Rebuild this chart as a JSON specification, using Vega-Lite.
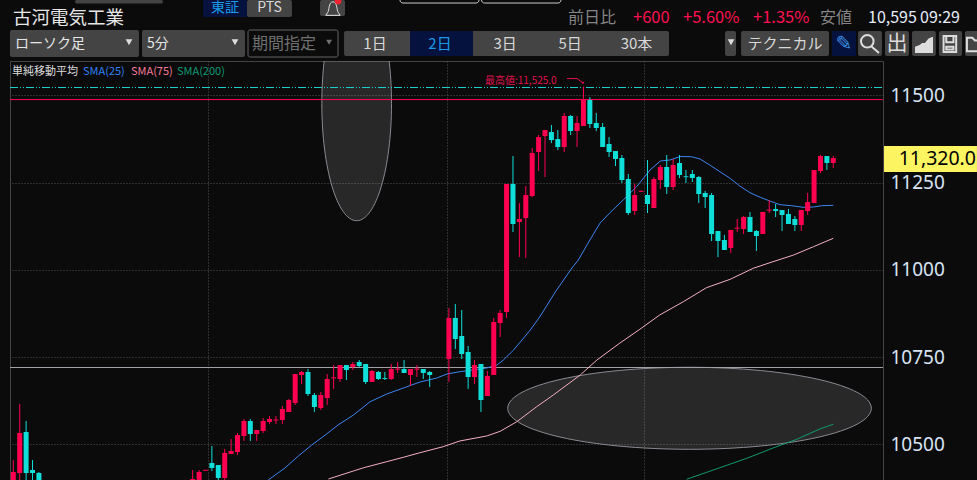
{
"$schema":"https://vega.github.io/schema/vega-lite/v6.json",
"width":873,"height":419,
"autosize":{"type":"none"},
"padding":{"left":10,"top":61,"right":94,"bottom":0},
"background":"#0b0b0c",
"view":{"stroke":"#444444","fill":"#0b0b0c"},
"config":{"text":{"font":"Noto Sans CJK JP","baseline":"middle"}},
"datasets":{
"candles":[
{"bar":0,"dir":"u","o":10385,"c":10420.7,"h":10455.1,"l":10380},
{"bar":1,"dir":"u","o":10417.9,"c":10532.5,"h":10615.6,"l":10380},
{"bar":2,"dir":"d","o":10535.4,"c":10417.9,"h":10566.9,"l":10380},
{"bar":3,"dir":"d","o":10426.5,"c":10417.9,"h":10455.1,"l":10380},
{"bar":4,"dir":"d","o":10417.9,"c":10385,"h":10420.7,"l":10380},
{"bar":28,"dir":"u","o":10390,"c":10400.7,"h":10426.5,"l":10385},
{"bar":29,"dir":"u","o":10390,"c":10420.7,"h":10426.5,"l":10385},
{"bar":30,"dir":"u","o":10424.2,"c":10427,"h":10427,"l":10424.2},
{"bar":31,"dir":"d","o":10446.5,"c":10432.2,"h":10495.2,"l":10423.6},
{"bar":32,"dir":"d","o":10440.8,"c":10403.6,"h":10440.8,"l":10398},
{"bar":33,"dir":"u","o":10403.6,"c":10475.2,"h":10486.6,"l":10398},
{"bar":34,"dir":"u","o":10472.3,"c":10480.9,"h":10515.3,"l":10472.3},
{"bar":35,"dir":"u","o":10478,"c":10526.8,"h":10532.5,"l":10469.4},
{"bar":36,"dir":"u","o":10523.9,"c":10566.9,"h":10572.6,"l":10509.6},
{"bar":37,"dir":"d","o":10566.9,"c":10529.6,"h":10572.6,"l":10509.6},
{"bar":38,"dir":"u","o":10529.6,"c":10541.1,"h":10541.1,"l":10509.6},
{"bar":39,"dir":"u","o":10538.2,"c":10566.9,"h":10575.5,"l":10532.5},
{"bar":40,"dir":"u","o":10564,"c":10572.6,"h":10581.2,"l":10558.3},
{"bar":41,"dir":"u","o":10568.3,"c":10571.1,"h":10581.2,"l":10558.3},
{"bar":42,"dir":"u","o":10569.7,"c":10601.3,"h":10609.9,"l":10558.3},
{"bar":43,"dir":"u","o":10592.7,"c":10627,"h":10629.9,"l":10592.7},
{"bar":44,"dir":"u","o":10618.5,"c":10701.5,"h":10701.5,"l":10612.7},
{"bar":45,"dir":"u","o":10698.6,"c":10707.3,"h":10710.1,"l":10672.9},
{"bar":46,"dir":"d","o":10707.3,"c":10644.2,"h":10715.8,"l":10638.5},
{"bar":47,"dir":"d","o":10641.4,"c":10607,"h":10647.1,"l":10592.7},
{"bar":48,"dir":"u","o":10604.1,"c":10641.4,"h":10650,"l":10598.4},
{"bar":49,"dir":"u","o":10632.8,"c":10687.2,"h":10701.5,"l":10612.7},
{"bar":50,"dir":"u","o":10689,"c":10692,"h":10727.3,"l":10658.6},
{"bar":51,"dir":"u","o":10687.2,"c":10727.3,"h":10727.3,"l":10678.6},
{"bar":52,"dir":"d","o":10727.3,"c":10713,"h":10727.3,"l":10684.3},
{"bar":53,"dir":"u","o":10721.6,"c":10730.2,"h":10735.9,"l":10713},
{"bar":54,"dir":"d","o":10735.9,"c":10724.4,"h":10741.6,"l":10721.6},
{"bar":55,"dir":"d","o":10730.2,"c":10678.6,"h":10730.2,"l":10672.9},
{"bar":56,"dir":"u","o":10678.6,"c":10710.1,"h":10713,"l":10678.6},
{"bar":57,"dir":"d","o":10707.3,"c":10687.2,"h":10710.1,"l":10684.3},
{"bar":58,"dir":"d","o":10690,"c":10687.5,"h":10707.3,"l":10684.3},
{"bar":59,"dir":"u","o":10687.2,"c":10715.8,"h":10730.2,"l":10684.3},
{"bar":60,"dir":"u","o":10714,"c":10717,"h":10735.9,"l":10704.4},
{"bar":61,"dir":"d","o":10715.8,"c":10704.4,"h":10741.6,"l":10704.4},
{"bar":62,"dir":"u","o":10698.6,"c":10715.8,"h":10715.8,"l":10667.1},
{"bar":63,"dir":"u","o":10714,"c":10717,"h":10727.3,"l":10692.9},
{"bar":64,"dir":"d","o":10715.8,"c":10704.4,"h":10715.8,"l":10687.2},
{"bar":65,"dir":"d","o":10707.3,"c":10698.6,"h":10710.1,"l":10664.3},
{"bar":68,"dir":"u","o":10744.5,"c":10861.9,"h":10890.6,"l":10678.6},
{"bar":69,"dir":"d","o":10861.9,"c":10801.8,"h":10902,"l":10773.1},
{"bar":70,"dir":"d","o":10810.4,"c":10758.8,"h":10884.9,"l":10744.5},
{"bar":71,"dir":"d","o":10764.6,"c":10692.9,"h":10781.7,"l":10658.6},
{"bar":72,"dir":"u","o":10692.9,"c":10727.3,"h":10741.6,"l":10672.9},
{"bar":73,"dir":"d","o":10730.2,"c":10627,"h":10730.2,"l":10592.7},
{"bar":74,"dir":"u","o":10638.5,"c":10695.8,"h":10710.1,"l":10638.5},
{"bar":75,"dir":"u","o":10698.6,"c":10850.5,"h":10861.9,"l":10698.6},
{"bar":76,"dir":"u","o":10847.6,"c":10876.3,"h":10884.9,"l":10807.5},
{"bar":77,"dir":"u","o":10879.2,"c":11245.9,"h":11245.9,"l":10861.9},
{"bar":78,"dir":"d","o":11245.9,"c":11131.3,"h":11326,"l":11108.4},
{"bar":79,"dir":"u","o":11137,"c":11145.6,"h":11191.4,"l":11036.7},
{"bar":80,"dir":"u","o":11148.5,"c":11214.4,"h":11240.1,"l":11033.9},
{"bar":81,"dir":"u","o":11211.5,"c":11334.7,"h":11349,"l":11208.6},
{"bar":82,"dir":"u","o":11337.5,"c":11380.5,"h":11386.3,"l":11283.1},
{"bar":83,"dir":"u","o":11383.4,"c":11400.6,"h":11400.6,"l":11265.9},
{"bar":84,"dir":"d","o":11394.8,"c":11371.9,"h":11414.9,"l":11363.3},
{"bar":85,"dir":"d","o":11374.8,"c":11351.9,"h":11400.6,"l":11343.3},
{"bar":86,"dir":"u","o":11351.9,"c":11440.7,"h":11449.3,"l":11337.5},
{"bar":87,"dir":"d","o":11440.7,"c":11397.7,"h":11443.5,"l":11386.3},
{"bar":88,"dir":"u","o":11397.7,"c":11420.6,"h":11440.7,"l":11351.9},
{"bar":89,"dir":"u","o":11412,"c":11489.4,"h":11525,"l":11412},
{"bar":90,"dir":"d","o":11486.5,"c":11417.8,"h":11495.1,"l":11406.3},
{"bar":91,"dir":"d","o":11420.6,"c":11406.3,"h":11449.3,"l":11397.7},
{"bar":92,"dir":"d","o":11409.2,"c":11351.9,"h":11420.6,"l":11351.9},
{"bar":93,"dir":"d","o":11360.5,"c":11337.5,"h":11380.5,"l":11323.2},
{"bar":94,"dir":"d","o":11340.4,"c":11317.5,"h":11340.4,"l":11297.4},
{"bar":95,"dir":"d","o":11320.4,"c":11257.3,"h":11328.9,"l":11248.7},
{"bar":96,"dir":"d","o":11260.2,"c":11162.8,"h":11274.5,"l":11157.1},
{"bar":97,"dir":"u","o":11168.5,"c":11214.4,"h":11245.9,"l":11157.1},
{"bar":98,"dir":"u","o":11223.5,"c":11226.5,"h":11226.5,"l":11223.5},
{"bar":99,"dir":"d","o":11214.4,"c":11188.6,"h":11314.6,"l":11162.8},
{"bar":100,"dir":"u","o":11177.1,"c":11260.2,"h":11265.9,"l":11177.1},
{"bar":101,"dir":"u","o":11257.3,"c":11294.6,"h":11300.3,"l":11231.5},
{"bar":102,"dir":"d","o":11294.6,"c":11237.3,"h":11328.9,"l":11217.2},
{"bar":103,"dir":"u","o":11237.3,"c":11300.3,"h":11317.5,"l":11228.7},
{"bar":104,"dir":"d","o":11306,"c":11271.7,"h":11328.9,"l":11263.1},
{"bar":105,"dir":"d","o":11268,"c":11265.5,"h":11286,"l":11248.7},
{"bar":106,"dir":"d","o":11274.5,"c":11263.1,"h":11286,"l":11251.6},
{"bar":107,"dir":"d","o":11265.9,"c":11217.2,"h":11268.8,"l":11191.4},
{"bar":108,"dir":"d","o":11220.1,"c":11208.6,"h":11225.8,"l":11177.1},
{"bar":109,"dir":"d","o":11214.4,"c":11102.6,"h":11220.1,"l":11082.6},
{"bar":110,"dir":"d","o":11111.2,"c":11082.6,"h":11111.2,"l":11036.7},
{"bar":111,"dir":"d","o":11085.4,"c":11056.8,"h":11099.8,"l":11056.8},
{"bar":112,"dir":"u","o":11062.5,"c":11114.1,"h":11114.1,"l":11048.2},
{"bar":113,"dir":"u","o":11118,"c":11121,"h":11145.6,"l":11108.4},
{"bar":114,"dir":"u","o":11117,"c":11151.3,"h":11154.2,"l":11102.6},
{"bar":115,"dir":"d","o":11151.3,"c":11108.4,"h":11165.6,"l":11108.4},
{"bar":116,"dir":"d","o":11111.2,"c":11096.9,"h":11114.1,"l":11053.9},
{"bar":117,"dir":"u","o":11102.6,"c":11165.6,"h":11165.6,"l":11102.6},
{"bar":118,"dir":"u","o":11169.5,"c":11172.5,"h":11200,"l":11162.8},
{"bar":119,"dir":"d","o":11174.2,"c":11168.5,"h":11188.6,"l":11151.3},
{"bar":120,"dir":"d","o":11171.4,"c":11157.1,"h":11171.4,"l":11111.2},
{"bar":121,"dir":"d","o":11159.9,"c":11131.3,"h":11174.2,"l":11131.3},
{"bar":122,"dir":"d","o":11145.6,"c":11128.4,"h":11154.2,"l":11111.2},
{"bar":123,"dir":"u","o":11128.4,"c":11171.4,"h":11171.4,"l":11111.2},
{"bar":124,"dir":"u","o":11168.5,"c":11194.3,"h":11220.1,"l":11157.1},
{"bar":125,"dir":"u","o":11191.4,"c":11286,"h":11286,"l":11191.4},
{"bar":126,"dir":"u","o":11283.1,"c":11326,"h":11328.9,"l":11277.4},
{"bar":127,"dir":"d","o":11326,"c":11306,"h":11326,"l":11286},
{"bar":128,"dir":"u","o":11306,"c":11320.4,"h":11326,"l":11291.7}
],
"sma":[
{"s":"SMA25","bar":39.8,"price":10397.8},{"s":"SMA25","bar":42.4,"price":10432.2},{"s":"SMA25","bar":44.5,"price":10466.6},{"s":"SMA25","bar":46.6,"price":10498.1},{"s":"SMA25","bar":48.7,"price":10526.8},{"s":"SMA25","bar":50.7,"price":10555.4},{"s":"SMA25","bar":53.1,"price":10584},{"s":"SMA25","bar":55.7,"price":10622.2},{"s":"SMA25","bar":58.3,"price":10644.2},{"s":"SMA25","bar":60.9,"price":10661.4},{"s":"SMA25","bar":63.5,"price":10678.6},{"s":"SMA25","bar":66.1,"price":10690},{"s":"SMA25","bar":67.7,"price":10701.5},{"s":"SMA25","bar":69.7,"price":10708},{"s":"SMA25","bar":73.9,"price":10718.7},{"s":"SMA25","bar":75.5,"price":10727.3},{"s":"SMA25","bar":76.5,"price":10741.6},{"s":"SMA25","bar":78.1,"price":10770.3},{"s":"SMA25","bar":80.7,"price":10827.6},{"s":"SMA25","bar":82.2,"price":10865.7},{"s":"SMA25","bar":84.6,"price":10936.4},{"s":"SMA25","bar":87.2,"price":11005.2},{"s":"SMA25","bar":88.2,"price":11028.1},{"s":"SMA25","bar":90,"price":11085.4},{"s":"SMA25","bar":91.6,"price":11134.1},{"s":"SMA25","bar":93.1,"price":11162.8},{"s":"SMA25","bar":95.2,"price":11200},{"s":"SMA25","bar":97.3,"price":11238.1},{"s":"SMA25","bar":99.4,"price":11286},{"s":"SMA25","bar":101,"price":11311.8},{"s":"SMA25","bar":102.5,"price":11314.6},{"s":"SMA25","bar":104.1,"price":11324.6},{"s":"SMA25","bar":105.9,"price":11324},{"s":"SMA25","bar":107.2,"price":11317.5},{"s":"SMA25","bar":108.8,"price":11299.4},{"s":"SMA25","bar":110.3,"price":11281.1},{"s":"SMA25","bar":111.9,"price":11262.2},{"s":"SMA25","bar":113.4,"price":11240.1},{"s":"SMA25","bar":115,"price":11220.9},{"s":"SMA25","bar":116.6,"price":11207.8},{"s":"SMA25","bar":118.1,"price":11197.1},{"s":"SMA25","bar":119.7,"price":11186.6},{"s":"SMA25","bar":121.5,"price":11183.7},{"s":"SMA25","bar":123.3,"price":11179.1},{"s":"SMA25","bar":124.9,"price":11180},{"s":"SMA25","bar":126.2,"price":11183.7},{"s":"SMA25","bar":128,"price":11184.8},
{"s":"SMA75","bar":49.2,"price":10400.7},{"s":"SMA75","bar":53.1,"price":10423.6},{"s":"SMA75","bar":54.7,"price":10433},{"s":"SMA75","bar":58.3,"price":10450.3},{"s":"SMA75","bar":60.9,"price":10462.9},{"s":"SMA75","bar":63.5,"price":10476.1},{"s":"SMA75","bar":67.1,"price":10493.2},{"s":"SMA75","bar":69.7,"price":10509.6},{"s":"SMA75","bar":73.9,"price":10523.9},{"s":"SMA75","bar":76,"price":10537.3},{"s":"SMA75","bar":78.6,"price":10564.8},{"s":"SMA75","bar":81.7,"price":10607.8},{"s":"SMA75","bar":84.3,"price":10641.4},{"s":"SMA75","bar":88.5,"price":10698.6},{"s":"SMA75","bar":91.1,"price":10741.6},{"s":"SMA75","bar":94.7,"price":10790.3},{"s":"SMA75","bar":97.8,"price":10829.6},{"s":"SMA75","bar":100.9,"price":10870.6},{"s":"SMA75","bar":104.6,"price":10908.7},{"s":"SMA75","bar":108.2,"price":10948.8},{"s":"SMA75","bar":111.9,"price":10972.8},{"s":"SMA75","bar":115.5,"price":11004.4},{"s":"SMA75","bar":118.6,"price":11023.3},{"s":"SMA75","bar":121.8,"price":11042.4},{"s":"SMA75","bar":124.9,"price":11066.2},{"s":"SMA75","bar":128,"price":11090.3},
{"s":"SMA200","bar":105.1,"price":10399.8},{"s":"SMA200","bar":110.3,"price":10433},{"s":"SMA200","bar":114.5,"price":10460},{"s":"SMA200","bar":118.6,"price":10489.5},{"s":"SMA200","bar":122.3,"price":10514.4},{"s":"SMA200","bar":125.9,"price":10544},{"s":"SMA200","bar":128,"price":10557.4}
]
},
"encoding":{
"x":{"field":"bar","type":"quantitative","title":null,"scale":{"domain":[-0.515,135.76],"nice":false,"zero":false,"padding":0},"axis":{"orient":"bottom","values":[30.39,67.7,98.46],"labels":false,"ticks":false,"domain":false,"title":null,"grid":true,"gridColor":"#555555","gridDash":[1,2],"gridWidth":1}},
"y":{"field":"price","type":"quantitative","title":null,"scale":{"domain":[10397.8,11598.3],"nice":false,"zero":false},"axis":{"orient":"right","values":[10500,10750,11000,11250,11500],"format":"d","ticks":false,"domain":false,"title":null,"grid":true,"gridColor":"#555555","gridDash":[1,2],"gridWidth":1,"labelPadding":7,"labelFont":"Noto Sans","labelFontSize":19,"labelColor":"#d8e4f4"}}
},
"layer":[
{"data":{"values":[{"bar":53.6,"price":11476.5}]},"mark":{"type":"point","clip":true,"shape":"M-1,0A1,3.363 0 1,1 1,0A1,3.363 0 1,1 -1,0Z","size":4858,"filled":true,"fill":"#ffffff","fillOpacity":0.12,"stroke":"#8a8a92","strokeWidth":1,"opacity":1}},
{"data":{"values":[{"bar":105.56,"price":10603.3}]},"mark":{"type":"point","clip":true,"shape":"M-1,0A1,0.2255 0 1,1 1,0A1,0.2255 0 1,1 -1,0Z","size":132205,"filled":true,"fill":"#ffffff","fillOpacity":0.12,"stroke":"#8a8a92","strokeWidth":1,"opacity":1}},
{"data":{"values":[{"bar":-0.515,"bar2":135.76,"price":11522.3}]},"mark":{"type":"rule","strokeWidth":1,"opacity":1,"strokeDash":[8,2,1,2,1,2]},"encoding":{"x2":{"field":"bar2"},"color":{"value":"#1fd0d0"}}},
{"data":{"values":[{"bar":-0.515,"bar2":135.76,"price":11487.9}]},"mark":{"type":"rule","strokeWidth":1,"opacity":1},"encoding":{"x2":{"field":"bar2"},"color":{"value":"#ff0050"}}},
{"data":{"values":[{"bar":-0.515,"bar2":135.76,"price":10720.1}]},"mark":{"type":"rule","strokeWidth":1,"opacity":1},"encoding":{"x2":{"field":"bar2"},"color":{"value":"#a0a0a6"}}},
{"data":{"name":"sma"},"mark":{"type":"line","clip":true,"strokeWidth":1,"interpolate":"linear"},"encoding":{"color":{"field":"s","type":"nominal","legend":null,"scale":{"domain":["SMA25","SMA75","SMA200","u","d"],"range":["#3d85f0","#f4afc2","#0f9a70","#ff0050","#0fdfd8"]}}}},
{"data":{"name":"candles"},"mark":{"type":"rule","clip":true,"strokeWidth":1},"encoding":{"y":{"field":"l","type":"quantitative","title":null,"axis":{"orient":"right","values":[10500,10750,11000,11250,11500],"format":"d","ticks":false,"domain":false,"title":null,"grid":true,"gridColor":"#555555","gridDash":[1,2],"gridWidth":1,"labelPadding":7,"labelFont":"Noto Sans","labelFontSize":19,"labelColor":"#d8e4f4"},"scale":{"domain":[10397.8,11598.3],"nice":false,"zero":false}},"y2":{"field":"h"},"color":{"field":"dir","type":"nominal","legend":null,"scale":{"domain":["SMA25","SMA75","SMA200","u","d"],"range":["#3d85f0","#f4afc2","#0f9a70","#ff0050","#0fdfd8"]}}}},
{"data":{"name":"candles"},"mark":{"type":"bar","clip":true,"size":5},"encoding":{"y":{"field":"o","type":"quantitative","title":null,"axis":{"orient":"right","values":[10500,10750,11000,11250,11500],"format":"d","ticks":false,"domain":false,"title":null,"grid":true,"gridColor":"#555555","gridDash":[1,2],"gridWidth":1,"labelPadding":7,"labelFont":"Noto Sans","labelFontSize":19,"labelColor":"#d8e4f4"},"scale":{"domain":[10397.8,11598.3],"nice":false,"zero":false}},"y2":{"field":"c"},"color":{"field":"dir","type":"nominal","legend":null,"scale":{"domain":["SMA25","SMA75","SMA200","u","d"],"range":["#3d85f0","#f4afc2","#0f9a70","#ff0050","#0fdfd8"]}}}},
{"data":{"values":[{"bar":86.43,"price":11548.1},{"bar":87.99,"price":11548.1},{"bar":88.93,"price":11535.2}]},"mark":{"type":"line","color":"#e0104c","strokeWidth":1}},
{"data":{"values":[{"bar":88.93,"price":11535.2}]},"mark":{"type":"point","shape":"triangle-down","size":10,"filled":true,"color":"#e0104c","opacity":1}},
{"data":{"values":[{"bar":73.63,"price":11541,"t":"最高値:11,525.0"}]},"mark":{"type":"text","align":"left","fontSize":10,"color":"#e0104c"},"encoding":{"text":{"field":"t"}}},
{"data":{"values":[{"bar":-0.203,"price":11566.8,"t":"単純移動平均"}]},"mark":{"type":"text","align":"left","fontSize":11,"color":"#dddddd"},"encoding":{"text":{"field":"t"}}},
{"data":{"values":[{"bar":10.88,"price":11566.8,"t":"SMA(25)"}]},"mark":{"type":"text","align":"left","fontSize":11,"color":"#3080f0"},"encoding":{"text":{"field":"t"}}},
{"data":{"values":[{"bar":18.37,"price":11566.8,"t":"SMA(75)"}]},"mark":{"type":"text","align":"left","fontSize":11,"color":"#f57a98"},"encoding":{"text":{"field":"t"}}},
{"data":{"values":[{"bar":25.55,"price":11566.8,"t":"SMA(200)"}]},"mark":{"type":"text","align":"left","fontSize":11,"color":"#0f9a70"},"encoding":{"text":{"field":"t"}}},
{"data":{"values":[{"bar":9.63,"bar2":23.37,"price":11773,"price2":11763},{"bar":-0.515,"bar2":19.62,"price":11687.1,"price2":11609.7},{"bar":20.09,"bar2":36.17,"price":11687.1,"price2":11609.7},{"bar":51.63,"bar2":102.36,"price":11684.2,"price2":11612.6},{"bar":111.1,"bar2":112.82,"price":11684.2,"price2":11612.6},{"bar":113.6,"bar2":127.33,"price":11684.2,"price2":11612.6},{"bar":131.86,"bar2":135.6,"price":11684.2,"price2":11612.6},{"bar":136.07,"bar2":139.81,"price":11684.2,"price2":11612.6},{"bar":140.29,"bar2":144,"price":11684.2,"price2":11612.6},{"bar":144.5,"bar2":148.1,"price":11684.2,"price2":11612.6},{"bar":148.56,"bar2":152,"price":11684.2,"price2":11612.6},{"bar":36.48,"bar2":43.5,"price":11773,"price2":11724.3},{"bar":47.88,"bar2":51.78,"price":11773,"price2":11727}]},"mark":{"type":"rect","fill":"#444444","cornerRadius":2},"encoding":{"x2":{"field":"bar2"},"y2":{"field":"price2"}}},
{"data":{"values":[{"bar":29.61,"bar2":36.48,"price":11773,"price2":11724.3},{"bar":61.93,"bar2":71.76,"price":11684.2,"price2":11612.6},{"bar":127.8,"bar2":131.55,"price":11684.2,"price2":11612.6}]},"mark":{"type":"rect","fill":"#06123e"},"encoding":{"x2":{"field":"bar2"},"y2":{"field":"price2"}}},
{"data":{"values":[{"bar":36.64,"bar2":50.69,"price":11687.1,"price2":11609.7}]},"mark":{"type":"rect","fill":"#0b0b0c","stroke":"#666666","strokeWidth":1,"cornerRadius":2},"encoding":{"x2":{"field":"bar2"},"y2":{"field":"price2"}}},
{"data":{"values":[{"bar":60.36,"bar2":72.7,"price":11790,"price2":11764.4},{"bar":73.09,"bar2":85.5,"price":11790,"price2":11764.4}]},"mark":{"type":"rect","fill":"#0b0b0c","stroke":"#cccccc","strokeWidth":1,"cornerRadius":3},"encoding":{"x2":{"field":"bar2"},"y2":{"field":"price2"}}},
{"data":{"values":[{"bar":135.92,"bar2":150.43,"price":11354.7,"price2":11280.2}]},"mark":{"type":"rect","fill":"#fdf461"},"encoding":{"x2":{"field":"bar2"},"y2":{"field":"price2"}}},
{"data":{"values":[{"bar":150.28,"price":11317.5,"t":"11,320.0"}]},"mark":{"type":"text","align":"right","font":"Noto Sans","fontSize":19.5,"color":"#000000"},"encoding":{"text":{"field":"t"}}},
{"data":{"values":[{"bar":-0.047,"price":11721.5,"t":"古河電気工業"}]},"mark":{"type":"text","align":"left","fontSize":18.5,"color":"#e6e6e6"},"encoding":{"text":{"field":"t"}}},
{"data":{"values":[{"bar":0.265,"price":11647,"t":"ローソク足"},{"bar":20.87,"price":11647,"t":"5分"}]},"mark":{"type":"text","align":"left","fontSize":14,"color":"#e6e6e6"},"encoding":{"text":{"field":"t"}}},
{"data":{"values":[{"bar":37.26,"price":11647,"t":"期間指定"}]},"mark":{"type":"text","align":"left","fontSize":16,"color":"#707070"},"encoding":{"text":{"field":"t"}}},
{"data":{"values":[{"bar":56.46,"price":11647,"t":"1日"},{"bar":76.76,"price":11647,"t":"3日"},{"bar":86.91,"price":11647,"t":"5日"},{"bar":97.28,"price":11647,"t":"30本"},{"bar":120.47,"price":11647,"t":"テクニカル"}]},"mark":{"type":"text","align":"center","fontSize":15,"color":"#d8d8d8"},"encoding":{"text":{"field":"t"}}},
{"data":{"values":[{"bar":39.99,"price":11750.1,"t":"PTS"}]},"mark":{"type":"text","align":"center","fontSize":14,"color":"#d8d8d8"},"encoding":{"text":{"field":"t"}}},
{"data":{"values":[{"bar":137.94,"price":11647,"t":"出"}]},"mark":{"type":"text","align":"center","fontSize":21,"color":"#dddddd"},"encoding":{"text":{"field":"t"}}},
{"data":{"values":[{"bar":66.61,"price":11647,"t":"2日"}]},"mark":{"type":"text","align":"center","fontSize":15,"color":"#1a9ae8"},"encoding":{"text":{"field":"t"}}},
{"data":{"values":[{"bar":33.05,"price":11750.1,"t":"東証"}]},"mark":{"type":"text","align":"center","fontSize":14,"color":"#1a9ae8"},"encoding":{"text":{"field":"t"}}},
{"data":{"values":[{"bar":129.67,"price":11647,"t":"✎"}]},"mark":{"type":"text","align":"center","font":"DejaVu Sans","fontSize":20,"color":"#3a8fe0"},"encoding":{"text":{"field":"t"}}},
{"data":{"values":[{"bar":86.59,"price":11721.5,"t":"前日比"},{"bar":125.93,"price":11721.5,"t":"安値"}]},"mark":{"type":"text","align":"left","fontSize":16,"color":"#858585"},"encoding":{"text":{"field":"t"}}},
{"data":{"values":[{"bar":96.74,"price":11721.5,"t":"+600"},{"bar":104.54,"price":11721.5,"t":"+5.60%"},{"bar":115.47,"price":11721.5,"t":"+1.35%"}]},"mark":{"type":"text","align":"left","fontSize":16.5,"color":"#ff1050"},"encoding":{"text":{"field":"t"}}},
{"data":{"values":[{"bar":133.42,"price":11721.5,"t":"10,595"},{"bar":141.54,"price":11721.5,"t":"09:29"}]},"mark":{"type":"text","align":"left","fontSize":16,"color":"#e6eef8"},"encoding":{"text":{"field":"t"}}},
{"data":{"values":[{"bar":18.06,"price":11652},{"bar":34.61,"price":11652},{"bar":112.04,"price":11652}]},"mark":{"type":"point","shape":"triangle-down","size":45,"filled":true,"color":"#dddddd","opacity":1}},
{"data":{"values":[{"bar":49.29,"price":11652}]},"mark":{"type":"point","shape":"triangle-down","size":35,"filled":true,"color":"#707070","opacity":1}},
{"data":{"values":[{"bar":49.9,"price":11747.2}]},"mark":{"type":"point","shape":"M-0.6,0.4C-0.4,0.2 -0.5,-0.8 0,-0.8C0.5,-0.8 0.4,0.2 0.6,0.4L0.8,0.7L-0.8,0.7Z","size":324,"filled":false,"stroke":"#e6e6e6","strokeWidth":1,"opacity":1}},
{"data":{"values":[{"bar":50.69,"price":11770}]},"mark":{"type":"point","shape":"circle","size":45,"filled":true,"color":"#ee2233","opacity":1}},
{"data":{"values":[{"bar":133.73,"price":11647}]},"mark":{"type":"point","shape":"M-1,-0.3A0.7,0.7 0 1,1 0.4,-0.3A0.7,0.7 0 1,1 -1,-0.3ZM0.2,0.3L1,1","size":324,"filled":false,"stroke":"#dddddd","strokeWidth":2,"opacity":1}},
{"data":{"values":[{"bar":142.16,"price":11647}]},"mark":{"type":"point","shape":"M-1,1L-1,0.3L-0.5,0.1L-0.2,-0.1L0.1,-0.1L0.5,-0.6L1,-0.8L1,1Z","size":324,"filled":true,"color":"#dddddd","opacity":1}},
{"data":{"values":[{"bar":146.2,"price":11647}]},"mark":{"type":"point","shape":"M-0.7,-0.9L0.7,-0.9L0.7,0.9L-0.7,0.9ZM-0.4,-0.9L-0.4,-0.2L0.4,-0.2L0.4,-0.9M-0.4,0.3L0.4,0.3L0.4,0.6L-0.4,0.6Z","size":324,"filled":false,"stroke":"#dddddd","strokeWidth":2,"opacity":1}},
{"data":{"values":[{"bar":150.12,"price":11647}]},"mark":{"type":"point","shape":"M-0.9,-0.7L-0.3,-0.7L0,-0.4L0.9,-0.4L0.9,0.8L-0.9,0.8Z","size":324,"filled":false,"stroke":"#dddddd","strokeWidth":2,"opacity":1}}
]
}
